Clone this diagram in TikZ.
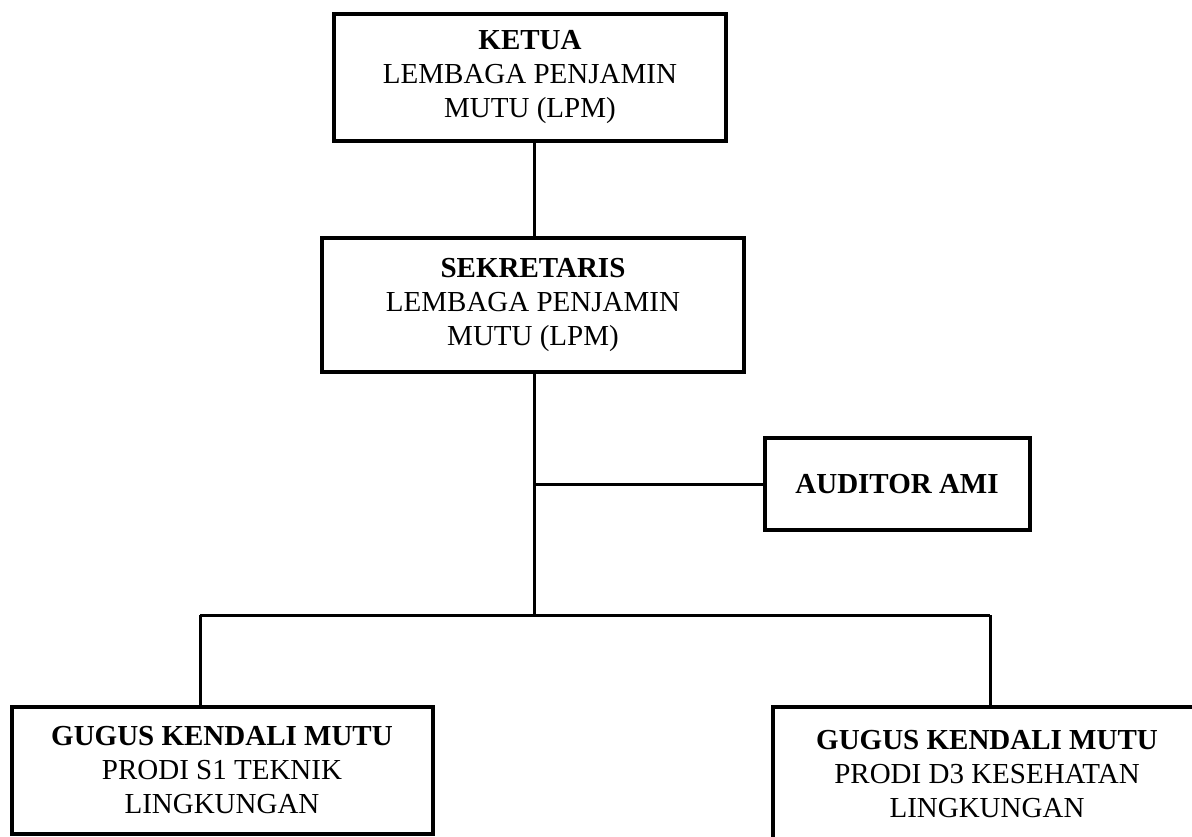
\documentclass[tikz,border=0pt]{standalone}
\usepackage{fontspec}
\setmainfont{Liberation Serif}
\usepackage{tikz}

\begin{document}
\begin{tikzpicture}[
		x=0.5pt, y=-0.5pt,
		line/.style={line width=1.5pt},
		box/.style={draw,line width=2pt,align=center,inner sep=0pt,
			font=\fontsize{14.5}{17}\selectfont},
		line join=miter]
		\useasboundingbox (0,0) rectangle (1192,836);
		\clip (0,0) rectangle (1192,836);
		\node[box,minimum width=196pt,minimum height=63.5pt] (ketua) at (530,77)
			{\textbf{KETUA}\\LEMBAGA PENJAMIN\\MUTU (LPM)};
		\node[box,minimum width=211pt,minimum height=67pt] (sekretaris) at (533,305)
			{\textbf{SEKRETARIS}\\LEMBAGA PENJAMIN\\MUTU (LPM)};
		\node[box,minimum width=132.5pt,minimum height=46pt] (auditor) at (897,484)
			{\textbf{AUDITOR AMI}};
		\node[box,minimum width=210.5pt,minimum height=63.5pt] (gkm1) at (222,770)
			{\textbf{GUGUS KENDALI MUTU}\\PRODI S1 TEKNIK\\LINGKUNGAN};
		\node[box,minimum width=214pt,minimum height=67pt] (gkm2) at (987,774)
			{\textbf{GUGUS KENDALI MUTU}\\PRODI D3 KESEHATAN\\LINGKUNGAN};
		\coordinate (cabang) at (534,484);
		\coordinate (bawah) at (534,615);
		\coordinate (kiri) at (200,615);
		\coordinate (kanan) at (990,615);
		\draw[line] (ketua.south -| bawah) -- (sekretaris.north -| bawah);
		\draw[line] (sekretaris.south -| bawah) -- (bawah);
		\draw[line] (cabang) -- (auditor);
		\draw[line] (kiri) -- (kanan);
		\draw[line] (kiri) -- (gkm1.north -| kiri);
		\draw[line] (kanan) -- (gkm2.north -| kanan);
\end{tikzpicture}
\end{document}
